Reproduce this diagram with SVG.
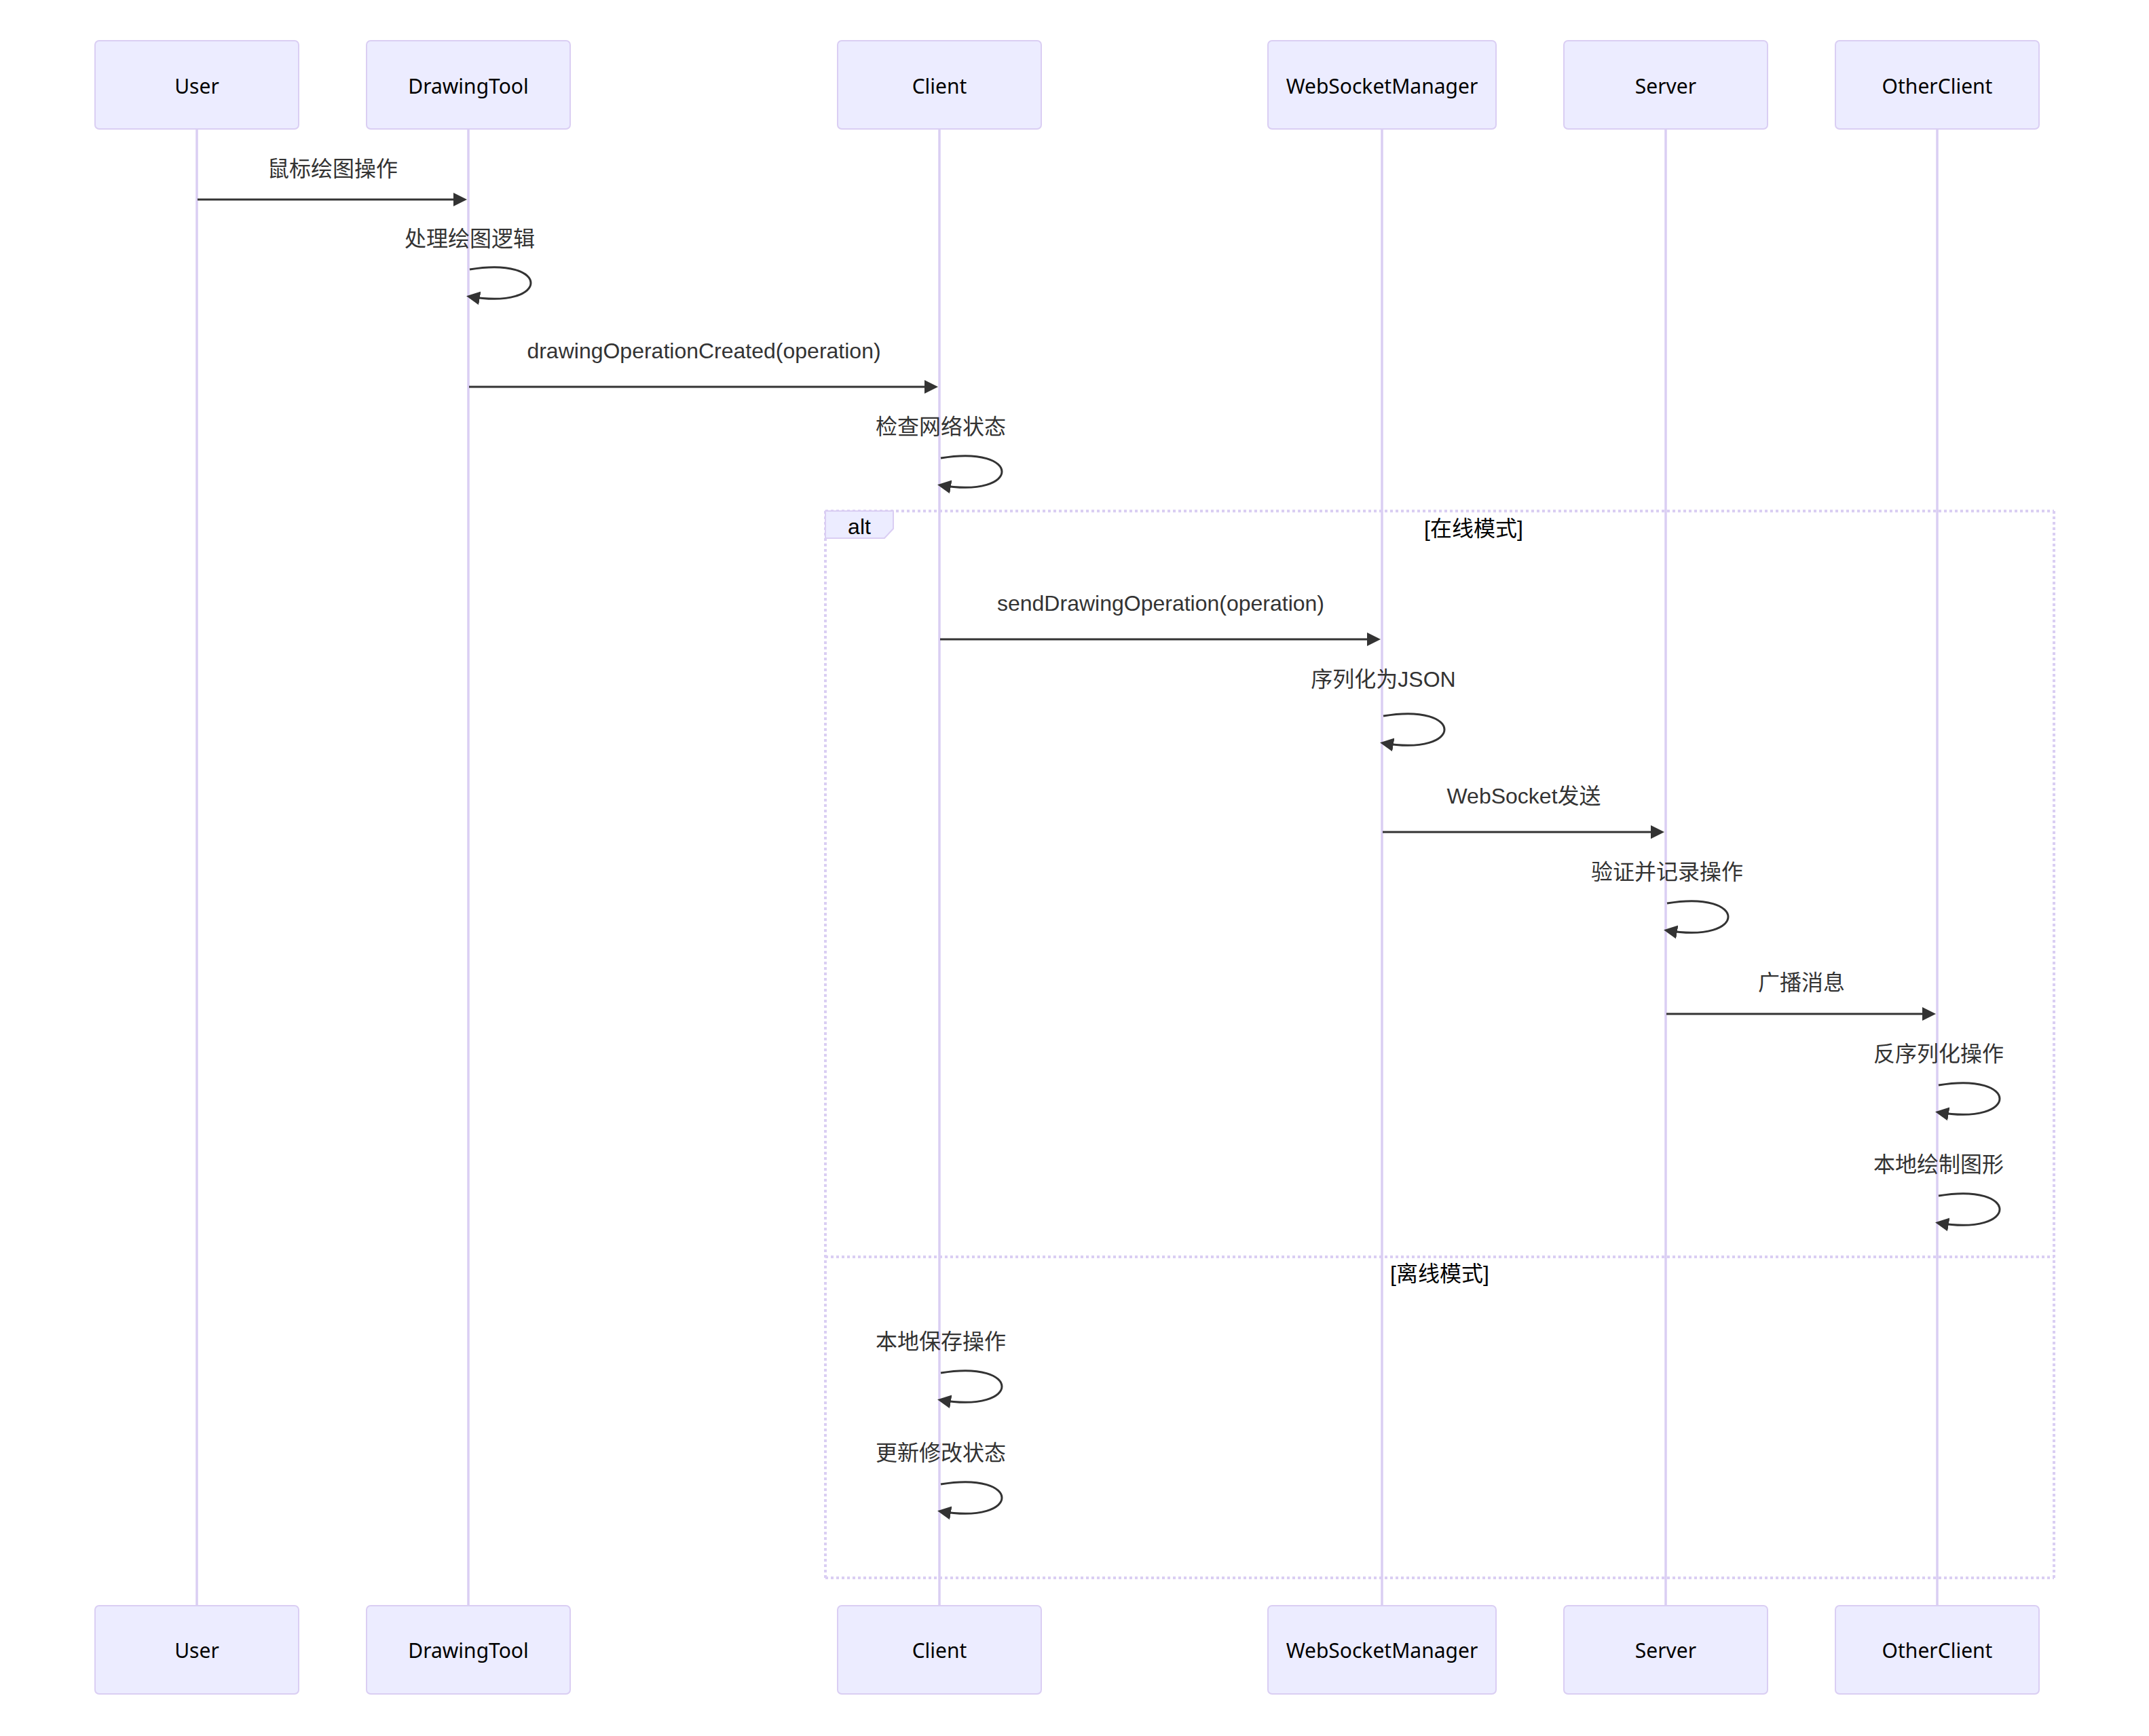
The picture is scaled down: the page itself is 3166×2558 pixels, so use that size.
<svg xmlns="http://www.w3.org/2000/svg" width="3166" height="2558" viewBox="0 0 3166 2558">
<style>
.actor{fill:#ECECFF;stroke:#DACEF3;stroke-width:2}
.lifeline{stroke:#DACEF3;stroke-width:3.5}
.atext{font-family:"Noto Sans","Liberation Sans",sans-serif;font-size:30px;fill:#000;text-anchor:middle}
.msg{stroke:#333;stroke-width:3;fill:none}
.mtext{font-family:"Liberation Sans","Noto Sans CJK SC",sans-serif;font-size:32px;fill:#333;text-anchor:middle}
.loopline{stroke:#DACEF3;stroke-width:4;stroke-dasharray:4 4;fill:none}
.labelbox{fill:#ECECFF;stroke:#DACEF3;stroke-width:2}
.looptext{font-family:"Liberation Sans","Noto Sans CJK SC",sans-serif;font-size:32px;fill:#000;text-anchor:middle}
</style>
<defs>
<marker id="arrow" viewBox="0 0 12 12" refX="7.5" refY="5" markerWidth="24" markerHeight="24" markerUnits="userSpaceOnUse" orient="auto"><path d="M0,0 L10,5 L0,10 z" fill="#333"/></marker>
</defs>
<rect x="0" y="0" width="3166" height="2558" fill="#fff"/>

<g id="actor-User">
<line class="lifeline" x1="290" y1="190" x2="290" y2="2366"/>
<rect class="actor" x="140" y="60" width="300" height="130" rx="6"/>
<text class="atext" x="290" y="137.5">User</text>
<rect class="actor" x="140" y="2366" width="300" height="130" rx="6"/>
<text class="atext" x="290" y="2443">User</text>
</g>
<g id="actor-DrawingTool">
<line class="lifeline" x1="690" y1="190" x2="690" y2="2366"/>
<rect class="actor" x="540" y="60" width="300" height="130" rx="6"/>
<text class="atext" x="690" y="137.5">DrawingTool</text>
<rect class="actor" x="540" y="2366" width="300" height="130" rx="6"/>
<text class="atext" x="690" y="2443">DrawingTool</text>
</g>
<g id="actor-Client">
<line class="lifeline" x1="1384" y1="190" x2="1384" y2="2366"/>
<rect class="actor" x="1234" y="60" width="300" height="130" rx="6"/>
<text class="atext" x="1384" y="137.5">Client</text>
<rect class="actor" x="1234" y="2366" width="300" height="130" rx="6"/>
<text class="atext" x="1384" y="2443">Client</text>
</g>
<g id="actor-WebSocketManager">
<line class="lifeline" x1="2036" y1="190" x2="2036" y2="2366"/>
<rect class="actor" x="1868" y="60" width="336" height="130" rx="6"/>
<text class="atext" x="2036" y="137.5">WebSocketManager</text>
<rect class="actor" x="1868" y="2366" width="336" height="130" rx="6"/>
<text class="atext" x="2036" y="2443">WebSocketManager</text>
</g>
<g id="actor-Server">
<line class="lifeline" x1="2454" y1="190" x2="2454" y2="2366"/>
<rect class="actor" x="2304" y="60" width="300" height="130" rx="6"/>
<text class="atext" x="2454" y="137.5">Server</text>
<rect class="actor" x="2304" y="2366" width="300" height="130" rx="6"/>
<text class="atext" x="2454" y="2443">Server</text>
</g>
<g id="actor-OtherClient">
<line class="lifeline" x1="2854" y1="190" x2="2854" y2="2366"/>
<rect class="actor" x="2704" y="60" width="300" height="130" rx="6"/>
<text class="atext" x="2854" y="137.5">OtherClient</text>
<rect class="actor" x="2704" y="2366" width="300" height="130" rx="6"/>
<text class="atext" x="2854" y="2443">OtherClient</text>
</g>

<g id="fragment-alt">
<line class="loopline" x1="1216" y1="753" x2="3026" y2="753"/>
<line class="loopline" x1="3026" y1="753" x2="3026" y2="2325"/>
<line class="loopline" x1="1216" y1="2325" x2="3026" y2="2325"/>
<line class="loopline" x1="1216" y1="753" x2="1216" y2="2325"/>
<line class="loopline" x1="1216" y1="1852" x2="3026" y2="1852"/>
<polygon class="labelbox" points="1216,753 1316,753 1316,779 1303,793 1216,793"/>
<text class="looptext" x="1266" y="787">alt</text>
<text class="looptext" x="2171" y="790">[在线模式]</text>
<text class="looptext" x="2121" y="1888">[离线模式]</text>
</g>

<g id="connectors">
<line class="msg" x1="291" y1="294" x2="683" y2="294" marker-end="url(#arrow)"/>
<text class="mtext" x="490" y="260">鼠标绘图操作</text>

<path class="msg" d="M692,397 C812,377 812,457 692,437" marker-end="url(#arrow)"/>
<text class="mtext" x="692" y="362.5">处理绘图逻辑</text>

<line class="msg" x1="691" y1="570" x2="1377" y2="570" marker-end="url(#arrow)"/>
<text class="mtext" x="1037" y="528">drawingOperationCreated(operation)</text>

<path class="msg" d="M1386,675 C1506,655 1506,735 1386,715" marker-end="url(#arrow)"/>
<text class="mtext" x="1386" y="639.5">检查网络状态</text>

<line class="msg" x1="1385" y1="942" x2="2029" y2="942" marker-end="url(#arrow)"/>
<text class="mtext" x="1710" y="900">sendDrawingOperation(operation)</text>

<path class="msg" d="M2038,1055 C2158,1035 2158,1115 2038,1095" marker-end="url(#arrow)"/>
<text class="mtext" x="2038" y="1012">序列化为JSON</text>

<line class="msg" x1="2037" y1="1226" x2="2447" y2="1226" marker-end="url(#arrow)"/>
<text class="mtext" x="2245" y="1184">WebSocket发送</text>

<path class="msg" d="M2456,1331 C2576,1311 2576,1391 2456,1371" marker-end="url(#arrow)"/>
<text class="mtext" x="2456" y="1296">验证并记录操作</text>

<line class="msg" x1="2455" y1="1494" x2="2847" y2="1494" marker-end="url(#arrow)"/>
<text class="mtext" x="2654" y="1459">广播消息</text>

<path class="msg" d="M2856,1599 C2976,1579 2976,1659 2856,1639" marker-end="url(#arrow)"/>
<text class="mtext" x="2856" y="1564">反序列化操作</text>

<path class="msg" d="M2856,1762 C2976,1742 2976,1822 2856,1802" marker-end="url(#arrow)"/>
<text class="mtext" x="2856" y="1727">本地绘制图形</text>

<path class="msg" d="M1386,2023 C1506,2003 1506,2083 1386,2063" marker-end="url(#arrow)"/>
<text class="mtext" x="1386" y="1988">本地保存操作</text>

<path class="msg" d="M1386,2187 C1506,2167 1506,2247 1386,2227" marker-end="url(#arrow)"/>
<text class="mtext" x="1386" y="2152">更新修改状态</text>
</g>
</svg>
